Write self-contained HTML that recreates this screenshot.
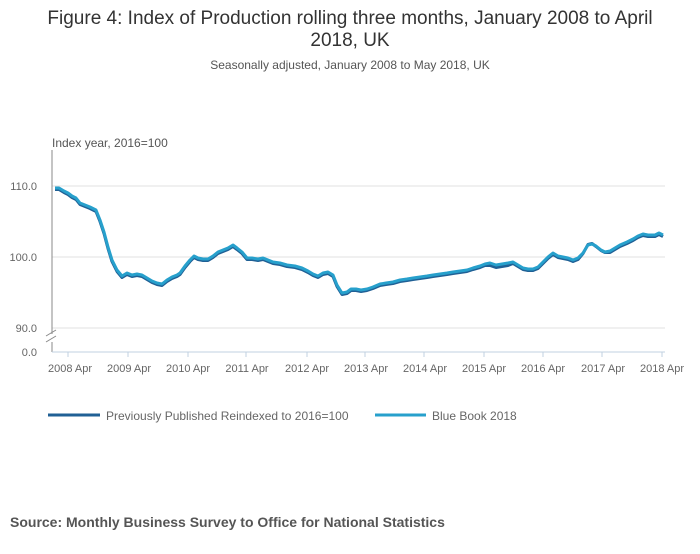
<!DOCTYPE html>
<html><head><style>
body{margin:0;background:#fff;width:700px;height:549px;overflow:hidden;font-family:"Liberation Sans",sans-serif}
</style></head><body>
<svg width="700" height="549" xmlns="http://www.w3.org/2000/svg" font-family="Liberation Sans, sans-serif">
<text x="350" y="24" text-anchor="middle" font-size="19" fill="#333">Figure 4: Index of Production rolling three months, January 2008 to April</text>
<text x="350" y="46" text-anchor="middle" font-size="19" fill="#333">2018, UK</text>
<text x="350" y="69" text-anchor="middle" font-size="12" fill="#555">Seasonally adjusted, January 2008 to May 2018, UK</text>
<text x="52" y="147" font-size="12" fill="#555">Index year, 2016=100</text>
<g stroke="#e0e0e0" stroke-width="1">
<line x1="52" y1="186" x2="665" y2="186"/><line x1="52" y1="257" x2="665" y2="257"/><line x1="52" y1="328" x2="665" y2="328"/>
</g>
<line x1="52" y1="150" x2="52" y2="352" stroke="#888" stroke-width="1"/>
<line x1="52" y1="352" x2="665" y2="352" stroke="#c0d0e0" stroke-width="1"/>
<rect x="46" y="334" width="12" height="8" fill="#fff"/>
<line x1="46" y1="336" x2="56" y2="330" stroke="#888"/><line x1="46" y1="342" x2="56" y2="336" stroke="#888"/>
<g font-size="11" fill="#666" text-anchor="end">
<text x="37" y="190">110.0</text><text x="37" y="261">100.0</text><text x="37" y="332">90.0</text><text x="37" y="356">0.0</text>
</g>
<g stroke="#c0d0e0"><line x1="68" y1="352" x2="68" y2="357"/><line x1="128" y1="352" x2="128" y2="357"/><line x1="188" y1="352" x2="188" y2="357"/><line x1="246" y1="352" x2="246" y2="357"/><line x1="307" y1="352" x2="307" y2="357"/><line x1="365" y1="352" x2="365" y2="357"/><line x1="424" y1="352" x2="424" y2="357"/><line x1="484" y1="352" x2="484" y2="357"/><line x1="543" y1="352" x2="543" y2="357"/><line x1="602" y1="352" x2="602" y2="357"/><line x1="662" y1="352" x2="662" y2="357"/></g>
<g font-size="11" fill="#666" text-anchor="middle">
<text x="70" y="372">2008 Apr</text><text x="129" y="372">2009 Apr</text><text x="188" y="372">2010 Apr</text><text x="247" y="372">2011 Apr</text><text x="307" y="372">2012 Apr</text><text x="366" y="372">2013 Apr</text><text x="425" y="372">2014 Apr</text><text x="484" y="372">2015 Apr</text><text x="543" y="372">2016 Apr</text><text x="603" y="372">2017 Apr</text><text x="662" y="372">2018 Apr</text>
</g>
<polyline fill="none" stroke="#206095" stroke-width="3" stroke-linejoin="round" transform="translate(0,1.5)" points="55,188 59,188 64,191 68,193 72,196 76,198 80,203 85,205 90,207 96,210 100,220 104,232 108,247 112,260 117,270 122,276 127,273 132,275 137,274 142,275 147,278 152,281 157,283 162,284 167,280 172,277 177,275 180,273 185,266 190,260 194,256 198,258 203,259 208,259 213,256 218,252 223,250 228,248 233,245 237,248 242,252 247,258 252,258 258,259 263,258 268,260 273,262 280,263 287,265 295,266 302,268 308,271 313,274 318,276 323,273 328,272 333,275 337,285 342,293 347,292 351,289 356,289 361,290 367,289 373,287 380,284 386,283 393,282 400,280 407,279 413,278 420,277 427,276 433,275 440,274 447,273 453,272 460,271 467,270 473,268 480,266 485,264 490,264 496,266 502,265 508,264 513,262 518,265 523,268 528,269 533,269 538,267 543,262 548,257 553,253 558,256 563,257 568,258 573,260 578,258 583,252 588,243 592,242 596,245 601,249 605,251 610,251 615,248 620,245 627,242 633,239 638,236 643,234 648,235 655,235 659,233 663,235"/>
<polyline fill="none" stroke="#27a0cc" stroke-width="3" stroke-linejoin="round" points="55,188 59,188 64,191 68,193 72,196 76,198 80,203 85,205 90,207 96,210 100,220 104,232 108,247 112,260 117,270 122,276 127,273 132,275 137,274 142,275 147,278 152,281 157,283 162,284 167,280 172,277 177,275 180,273 185,266 190,260 194,256 198,258 203,259 208,259 213,256 218,252 223,250 228,248 233,245 237,248 242,252 247,258 252,258 258,259 263,258 268,260 273,262 280,263 287,265 295,266 302,268 308,271 313,274 318,276 323,273 328,272 333,275 337,285 342,293 347,292 351,289 356,289 361,290 367,289 373,287 380,284 386,283 393,282 400,280 407,279 413,278 420,277 427,276 433,275 440,274 447,273 453,272 460,271 467,270 473,268 480,266 485,264 490,263 496,265 502,264 508,263 513,262 518,265 523,268 528,269 533,269 538,267 543,262 548,257 553,253 558,256 563,257 568,258 573,260 578,258 583,253 588,245 592,244 596,246 601,250 605,252 610,251 615,248 620,245 627,242 633,239 638,236 643,234 648,235 655,235 659,233 663,235"/>
<line x1="48" y1="415" x2="100" y2="415" stroke="#206095" stroke-width="3"/>
<text x="106" y="420" font-size="12" fill="#666">Previously Published Reindexed to 2016=100</text>
<line x1="375" y1="415" x2="426" y2="415" stroke="#27a0cc" stroke-width="3"/>
<text x="432" y="420" font-size="12" fill="#666">Blue Book 2018</text>
<text x="10" y="527" font-size="14" font-weight="bold" fill="#555">Source: Monthly Business Survey to  Office for National Statistics</text>
</svg>
</body></html>
